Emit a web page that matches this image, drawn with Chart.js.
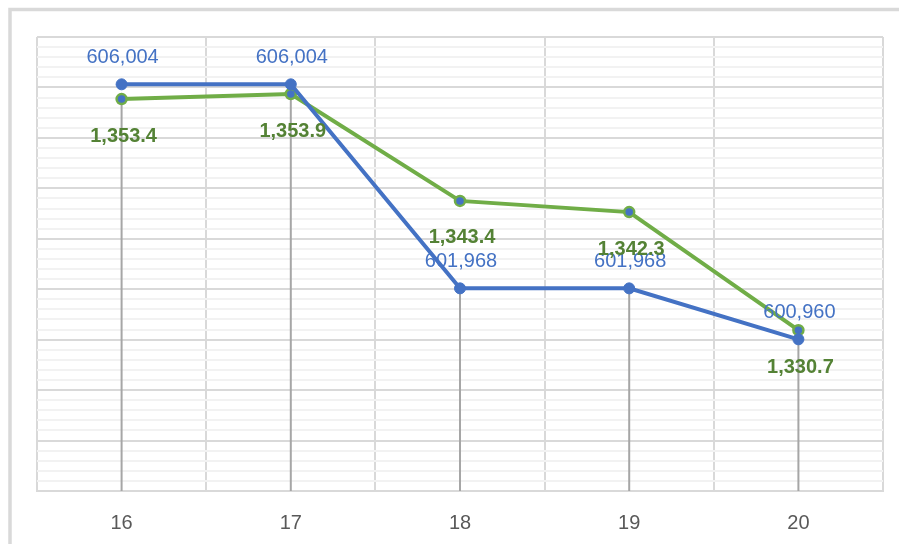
<!DOCTYPE html>
<html>
<head>
<meta charset="utf-8">
<script src="https://cdn.jsdelivr.net/npm/chart.js@4/dist/chart.umd.min.js"></script>
<style>
  html, body { margin: 0; padding: 0; background: #fff; }
  #wrap { width: 899px; height: 544px; position: relative; }
</style>
</head>
<body>
<div id="wrap"><canvas id="chart" width="899" height="544"></canvas></div>
<script>
// chart data
const categories = ['16', '17', '18', '19', '20'];
const blueValues = [606004, 606004, 601968, 601968, 600960];
const greenValues = [1353.4, 1353.9, 1343.4, 1342.3, 1330.7];

const BLUE = '#4472C4';
const GREEN = '#70AD47';
const GREEN_TEXT = '#548235';
const FONT = "'Liberation Sans', Arial, sans-serif";

// outer frame around the chart (cut off on the right and bottom like the picture)
const framePlugin = {
  id: 'frame',
  beforeDraw(chart) {
    const ctx = chart.ctx;
    ctx.save();
    ctx.strokeStyle = '#d9d9d9';
    ctx.lineWidth = 3.5;
    ctx.strokeRect(10, 9.5, 1000, 1000);
    ctx.restore();
  }
};

// drop lines from the lowest point of each category down to the axis
const dropLinePlugin = {
  id: 'dropLines',
  beforeDatasetsDraw(chart) {
    const ctx = chart.ctx;
    const metas = chart.data.datasets.map((d, i) => chart.getDatasetMeta(i));
    ctx.save();
    ctx.strokeStyle = '#a6a6a6';
    ctx.lineWidth = 2;
    categories.forEach((c, i) => {
      const x = metas[0].data[i].x;
      const y = Math.max(...metas.map(m => m.data[i].y));
      ctx.beginPath();
      ctx.moveTo(x, y);
      ctx.lineTo(x, chart.chartArea.bottom);
      ctx.stroke();
    });
    ctx.restore();
  }
};

// value labels: blue above, green (bold) below
const labelPlugin = {
  id: 'valueLabels',
  afterDatasetsDraw(chart) {
    const ctx = chart.ctx;
    ctx.save();
    ctx.textAlign = 'center';
    ctx.textBaseline = 'middle';
    const mBlue = chart.getDatasetMeta(0);
    const mGreen = chart.getDatasetMeta(1);
    ctx.font = '20px ' + FONT;
    ctx.fillStyle = BLUE;
    blueValues.forEach((v, i) => {
      const p = mBlue.data[i];
      ctx.fillText(v.toLocaleString('en-US'), p.x + 1, p.y - 27);
    });
    ctx.font = 'bold 20px ' + FONT;
    ctx.fillStyle = GREEN_TEXT;
    greenValues.forEach((v, i) => {
      const p = mGreen.data[i];
      const txt = v.toLocaleString('en-US', { minimumFractionDigits: 1, maximumFractionDigits: 1 });
      ctx.fillText(txt, p.x + 2, p.y + 37);
    });
    ctx.restore();
  }
};

new Chart(document.getElementById('chart'), {
  type: 'line',
  data: {
    labels: categories,
    datasets: [
      {
        data: blueValues,
        yAxisID: 'y2',
        borderColor: BLUE,
        borderWidth: 4,
        tension: 0,
        pointRadius: 5.5,
        pointBackgroundColor: BLUE,
        pointBorderColor: BLUE,
        pointBorderWidth: 1
      },
      {
        data: greenValues,
        yAxisID: 'y',
        borderColor: GREEN,
        borderWidth: 4,
        tension: 0,
        pointRadius: 5,
        pointBackgroundColor: BLUE,
        pointBorderColor: GREEN,
        pointBorderWidth: 2.5
      }
    ]
  },
  options: {
    responsive: false,
    animation: false,
    layout: { padding: { left: 37, right: 16, top: 37, bottom: 0 } },
    plugins: {
      legend: { display: false },
      tooltip: { enabled: false }
    },
    scales: {
      x: {
        type: 'category',
        offset: true,
        grid: { offset: true, color: '#d9d9d9', lineWidth: 2, drawTicks: false },
        border: { color: '#d9d9d9', width: 2 },
        ticks: { color: '#595959', font: { family: FONT, size: 20 }, padding: 20 },
        afterFit(s) { s.height = 53; }
      },
      // gridline-only axis: 9 major divisions, 5 minor steps each
      g: {
        position: 'left',
        min: 0,
        max: 45,
        grid: {
          drawTicks: false,
          lineWidth: 2,
          color: c => (Math.round(c.tick.value) % 5 === 0 ? '#d9d9d9' : '#f2f2f2')
        },
        border: { display: false },
        ticks: { display: false, stepSize: 1, maxTicksLimit: 100 },
        afterFit(s) { s.width = 0; }
      },
      y: {
        position: 'left',
        display: false,
        min: 1314.9,
        max: 1359.5
      },
      y2: {
        position: 'right',
        display: false,
        min: 597960,
        max: 606940
      }
    }
  },
  plugins: [framePlugin, dropLinePlugin, labelPlugin]
});
</script>
</body>
</html>
